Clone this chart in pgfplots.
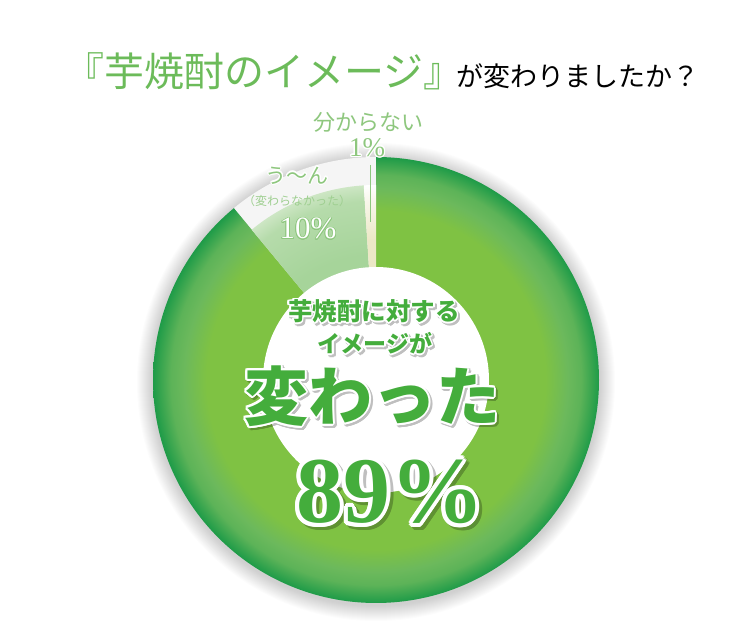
\documentclass[border=0pt]{standalone}
\usepackage{pgfplots}
\pgfplotsset{compat=1.18}
\usepackage{pgfplotstable}
\usepackage{fontspec}
\usepackage[copies]{contour}
\setmainfont{Liberation Serif}
\newfontfamily\jp{Noto Sans CJK JP}

\definecolor{titlegreen}{HTML}{6CBB5A}
\definecolor{labgreen}{HTML}{8EC77E}
\definecolor{txtgreen}{HTML}{44AD3C}
\definecolor{gIn}{HTML}{7FC243}
\definecolor{gMid}{HTML}{6CB95C}
\definecolor{gOut}{HTML}{1E9B48}
\definecolor{tIn}{HTML}{A6D49A}
\definecolor{tOut}{HTML}{CDE6C4}
\definecolor{oIn}{HTML}{ECE8C6}

% radial shadings, circle edge = 25bp
\pgfdeclareradialshading{ringshade}{\pgfpoint{0bp}{0bp}}{%
  color(0bp)=(gIn); color(19bp)=(gIn); color(21.5bp)=(gMid);
  color(23bp)=(gMid!80!gOut); color(25bp)=(gOut); color(50bp)=(gOut)}
\pgfdeclareradialshading{tenshade}{\pgfpoint{0bp}{0bp}}{%
  color(0bp)=(tIn); color(16bp)=(tIn); color(23bp)=(tIn!60!tOut);
  color(25bp)=(tOut); color(50bp)=(tOut)}
\pgfdeclareradialshading{oneshade}{\pgfpoint{0bp}{0bp}}{%
  color(0bp)=(oIn); color(18bp)=(oIn); color(23bp)=(oIn!35!white);
  color(25bp)=(white); color(50bp)=(white)}

% share in percent, radius of the slice in px
\pgfplotstableread{
share radius
89 223
10 195
1 195
}\piedata

\begin{document}
\begin{tikzpicture}
\pgfplotstablegetelem{0}{share}\of\piedata \let\sA\pgfplotsretval
\pgfplotstablegetelem{1}{share}\of\piedata \let\sB\pgfplotsretval
\pgfplotstablegetelem{2}{share}\of\piedata \let\sC\pgfplotsretval
\pgfplotstablegetelem{0}{radius}\of\piedata \let\rA\pgfplotsretval
\pgfplotstablegetelem{1}{radius}\of\piedata \let\rB\pgfplotsretval
\pgfplotstablegetelem{2}{radius}\of\piedata \let\rC\pgfplotsretval
\pgfmathsetmacro\aA{90-3.6*\sA}
\pgfmathsetmacro\aB{\aA-3.6*\sB}
\pgfmathsetmacro\aC{\aB-3.6*\sC}
\begin{axis}[x=1pt, y=1pt, xmin=0, xmax=753, ymin=0, ymax=635,
  hide axis, clip=false, scale only axis]
\path (axis cs:0,0) rectangle (axis cs:753,635);

% soft shadow round the pie
\pgfplotsinvokeforeach{1,...,16}{
  \fill[black, opacity=0.012] (axis cs:376,253) circle[radius={(\rA+#1)*1pt}];
}
\fill[white!96!black] (axis cs:376,255) -- ++(90:\rA pt)
  arc[start angle=90, end angle=90+3.6*\sB+3.6*\sC, radius=\rA pt] -- cycle;

% 89 %
\begin{scope}
  \clip (axis cs:376,255) -- ++(90:\rA pt)
    arc[start angle=90, end angle=\aA, radius=\rA pt] -- cycle;
  \shade[shading=ringshade] (axis cs:376,255) circle[radius=\rA pt];
\end{scope}
% 10 %
\begin{scope}
  \clip (axis cs:376,255) -- ++(\aA:\rB pt)
    arc[start angle=\aA, end angle=\aB, radius=\rB pt] -- cycle;
  \shade[shading=tenshade] (axis cs:376,255) circle[radius=\rB pt];
\end{scope}
% 1 %
\begin{scope}
  \clip (axis cs:376,255) -- ++(\aB:\rC pt)
    arc[start angle=\aB, end angle=\aC, radius=\rC pt] -- cycle;
  \shade[shading=oneshade] (axis cs:376,255) circle[radius=\rC pt];
\end{scope}

\fill[white] (axis cs:376,255) circle[radius=113pt];

\addplot[draw=labgreen, line width=1pt] coordinates {(370,470) (370,413)};

% title
\node[anchor=base, inner sep=0] at (axis cs:264,548)
  {\jp\fontsize{40}{40}\selectfont\color{titlegreen}『芋焼酎のイメージ』};
\node[anchor=base west, inner sep=0] at (axis cs:456,548)
  {\jp\fontsize{27}{27}\selectfont が変わりましたか？};

% slice labels
\contourlength{1.2pt}
\node at (axis cs:368,512) {\jp\fontsize{22}{22}\selectfont\color{labgreen}\contour{white}{分からない}};
\node at (axis cs:367,487) {\fontsize{27}{27}\selectfont\color{labgreen}\contour{white}{1\%}};
\node at (axis cs:297,459) {\jp\fontsize{21}{21}\selectfont\color{labgreen}\contour{white}{う〜ん}};
\node at (axis cs:297,434) {\jp\fontsize{12}{12}\selectfont\color{labgreen!85!white}（変わらなかった）};
\node at (axis cs:308,406) {\fontsize{31}{31}\selectfont\color{white}\contourlength{0.7pt}\contour{labgreen}{10\%}};

% centre text, with shadow
\begin{scope}[transparency group, opacity=0.25]
  \node at (axis cs:376,321) {\jp\bfseries\fontsize{24.5}{24.5}\selectfont\contourlength{1.5pt}\contour{black}{芋焼酎に対する}};
  \node at (axis cs:377,289) {\jp\bfseries\fontsize{23}{23}\selectfont\contourlength{1.5pt}\contour{black}{イメージが}};
  \node at (axis cs:374,236) {\jp\bfseries\fontsize{64}{64}\selectfont\contourlength{2pt}\contour{black}{変わった}};
  \node at (axis cs:393,138) {\bfseries\fontsize{94}{94}\selectfont\contourlength{4pt}\contour{black}{89\%}};
\end{scope}
\node at (axis cs:374,323) {\jp\bfseries\fontsize{24.5}{24.5}\selectfont\color{txtgreen}\contourlength{1.5pt}\contour{white}{芋焼酎に対する}};
\node at (axis cs:375,291) {\jp\bfseries\fontsize{23}{23}\selectfont\color{txtgreen}\contourlength{1.5pt}\contour{white}{イメージが}};
\node at (axis cs:372,238) {\jp\bfseries\fontsize{64}{64}\selectfont\color{txtgreen}\contourlength{2pt}\contour{white}{変わった}};
\node at (axis cs:390,141) {\bfseries\fontsize{94}{94}\selectfont\color{txtgreen}\contourlength{4pt}\contour{white}{89\%}};
\end{axis}
\end{tikzpicture}
\end{document}
